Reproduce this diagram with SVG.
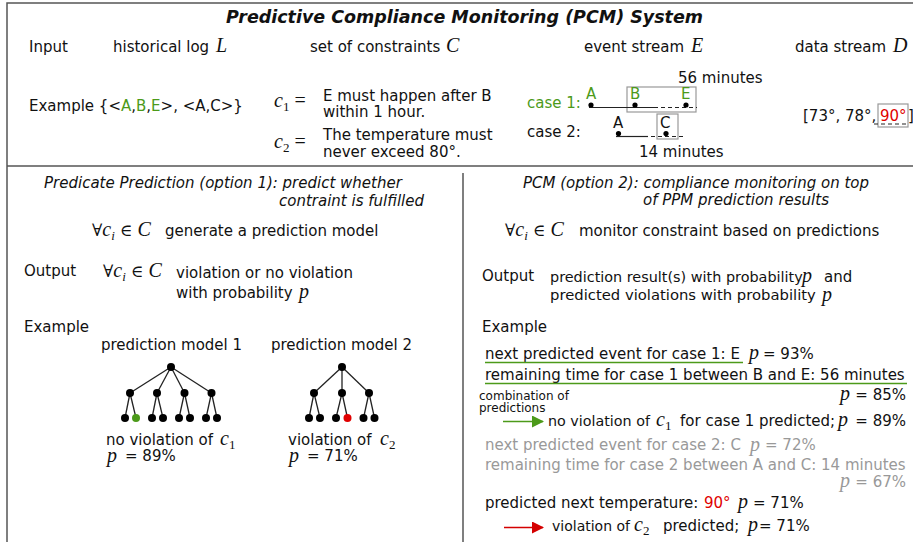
<svg xmlns="http://www.w3.org/2000/svg" width="913" height="542" viewBox="0 0 913 542">
<style>
.t{font-family:"DejaVu Sans","Noto Sans",sans-serif;font-size:15px;fill:#111}
.sm{font-size:12px}
.it{font-style:italic}
.m{font-family:"Liberation Serif","DejaVu Serif",serif;font-style:italic;font-size:20px;fill:#111}
.n{font-style:normal}
.op{font-style:normal;font-size:17px}
.sub{font-size:13px}
.g{fill:#4c9a1a}
.r{fill:#e00000}
.gr{fill:#999}
.frame{stroke:#555;stroke-width:1.5;fill:none}
.box{stroke:#999;stroke-width:1.2;fill:none}
.ln{stroke:#222;stroke-width:1.2;fill:none}
.dash{stroke:#222;stroke-width:1.2;stroke-dasharray:4 3;fill:none}
.edge{stroke:#222;stroke-width:1.3}
.dot{fill:#000}
</style>
<defs>
<marker id="ahg" markerWidth="12" markerHeight="12" refX="11" refY="6" orient="auto" markerUnits="userSpaceOnUse"><path d="M0,0 L12,6 L0,12 Z" fill="#4c9a1a"/></marker>
<marker id="ahr" markerWidth="12" markerHeight="12" refX="11" refY="6" orient="auto" markerUnits="userSpaceOnUse"><path d="M0,0 L12,6 L0,12 Z" fill="#d40000"/></marker>
</defs>

<g id="frame">
<path class="frame" d="M7,542 V3 H913"/>
<line class="frame" x1="7" y1="166" x2="913" y2="166"/>
<line class="frame" x1="463" y1="173" x2="463" y2="542"/>
</g>

<g id="title">
<text class="t" x="226" y="23" style="font-size:17px;font-weight:bold;font-style:italic" textLength="477" lengthAdjust="spacingAndGlyphs">Predictive Compliance Monitoring (PCM) System</text>
</g>

<g id="input-row">
<text class="t" x="29" y="51.5">Input</text>
<text class="t" x="113" y="51.5">historical log</text>
<text class="m" x="216" y="51.5">L</text>
<text class="t" x="310" y="51.5">set of constraints</text>
<text class="m" x="446" y="51.5">C</text>
<text class="t" x="584" y="51.5">event stream</text>
<text class="m" x="691" y="51.5">E</text>
<text class="t" x="795" y="51.5">data stream</text>
<text class="m" x="893" y="51.5">D</text>
</g>

<g id="example-log">
<text class="t" x="29" y="111">Example {&lt;<tspan class="g">A</tspan>,<tspan class="g">B</tspan>,<tspan class="g">E</tspan>&gt;, &lt;A,C&gt;}</text>
</g>

<g id="constraints">
<text class="m" x="274" y="107">c<tspan class="sub n" dy="4">1</tspan><tspan class="n" dy="-4" dx="5">=</tspan></text>
<text class="t" x="323" y="101">E must happen after B</text>
<text class="t" x="323" y="117">within 1 hour.</text>
<text class="m" x="274" y="148">c<tspan class="sub n" dy="4">2</tspan><tspan class="n" dy="-4" dx="5">=</tspan></text>
<text class="t" x="323" y="140">The temperature must</text>
<text class="t" x="323" y="156.5">never exceed 80°.</text>
</g>

<g id="event-stream">
<text class="t" x="678" y="82.5">56 minutes</text>
<text class="t g" x="527" y="108">case 1:</text>
<rect class="box" x="627" y="87" width="69" height="25"/>
<line class="ln" x1="589" y1="107.5" x2="658" y2="107.5"/>
<line class="dash" x1="661" y1="107.5" x2="697" y2="107.5"/>
<text class="t g" x="586" y="99">A</text>
<text class="t g" x="630" y="99">B</text>
<text class="t g" x="681" y="99">E</text>
<circle class="dot" cx="591" cy="105" r="2.6"/>
<circle class="dot" cx="635" cy="105" r="2.6"/>
<circle class="dot" cx="686" cy="105" r="2.6"/>
<text class="t" x="527" y="137">case 2:</text>
<rect class="box" x="657" y="114" width="21" height="25"/>
<line class="ln" x1="616" y1="136.5" x2="648" y2="136.5"/>
<line class="dash" x1="651" y1="136.5" x2="686" y2="136.5"/>
<text class="t" x="613" y="128">A</text>
<text class="t" x="660" y="128">C</text>
<circle class="dot" cx="618.5" cy="133.5" r="2.6"/>
<circle class="dot" cx="666" cy="133.5" r="2.6"/>
<text class="t" x="639" y="157">14 minutes</text>
</g>

<g id="data-stream">
<text class="t" x="803" y="120.5">[73°, 78°, <tspan class="r" x="880">90°</tspan><tspan x="908">]</tspan></text>
<rect class="box" x="878" y="104" width="30" height="23"/>
<line class="dash" x1="874" y1="124" x2="907" y2="124" stroke-width="1"/>
</g>

<g id="option1-header">
<text class="t it" x="44" y="188">Predicate Prediction (option 1): predict whether</text>
<text class="t it" x="424" y="206" text-anchor="end">contraint is fulfilled</text>
<text class="m" x="92" y="236"><tspan class="op">∀</tspan>c<tspan class="sub" dy="4">i</tspan><tspan class="op" dy="-4" dx="5">∈</tspan><tspan dx="5">C</tspan></text>
<text class="t" x="165" y="236">generate a prediction model</text>
</g>

<g id="option1-output">
<text class="t" x="24" y="276">Output</text>
<text class="m" x="103" y="277"><tspan class="op">∀</tspan>c<tspan class="sub" dy="4">i</tspan><tspan class="op" dy="-4" dx="5">∈</tspan><tspan dx="5">C</tspan></text>
<text class="t" x="176" y="278">violation or no violation</text>
<text class="t" x="176" y="298">with probability</text>
<text class="m" x="299" y="298">p</text>
<text class="t" x="24" y="332">Example</text>
</g>

<g id="model1">
<text class="t" x="101" y="350">prediction model 1</text>
<g class="edge">
<line x1="171" y1="367" x2="130" y2="393"/><line x1="171" y1="367" x2="157" y2="393"/><line x1="171" y1="367" x2="184.5" y2="393"/><line x1="171" y1="367" x2="211.5" y2="393"/>
<line x1="130" y1="393" x2="125" y2="418"/><line x1="130" y1="393" x2="136" y2="418"/>
<line x1="157" y1="393" x2="152" y2="418"/><line x1="157" y1="393" x2="163" y2="418"/>
<line x1="184.5" y1="393" x2="179" y2="418"/><line x1="184.5" y1="393" x2="190" y2="418"/>
<line x1="211.5" y1="393" x2="206" y2="418"/><line x1="211.5" y1="393" x2="217" y2="418"/>
</g>
<g class="dot">
<circle cx="171" cy="367" r="4"/>
<circle cx="130" cy="393" r="4"/><circle cx="157" cy="393" r="4"/><circle cx="184.5" cy="393" r="4"/><circle cx="211.5" cy="393" r="4"/>
<circle cx="125" cy="418" r="4"/><circle cx="136" cy="418" r="4" fill="#4c9a1a"/><circle cx="152" cy="418" r="4"/><circle cx="163" cy="418" r="4"/>
<circle cx="179" cy="418" r="4"/><circle cx="190" cy="418" r="4"/><circle cx="206" cy="418" r="4"/><circle cx="217" cy="418" r="4"/>
</g>
<text class="t" x="106" y="445">no violation of</text>
<text class="m" x="220" y="445">c<tspan class="sub n" dy="4">1</tspan></text>
<text class="m" x="107" y="462">p</text>
<text class="t" x="125" y="461">= 89%</text>
</g>

<g id="model2">
<text class="t" x="271" y="350">prediction model 2</text>
<g class="edge">
<line x1="342" y1="367" x2="314" y2="393"/><line x1="342" y1="367" x2="342" y2="393"/><line x1="342" y1="367" x2="369" y2="393"/>
<line x1="314" y1="393" x2="309" y2="418"/><line x1="314" y1="393" x2="320" y2="418"/>
<line x1="342" y1="393" x2="336" y2="418"/><line x1="342" y1="393" x2="347.5" y2="418"/>
<line x1="369" y1="393" x2="363.5" y2="418"/><line x1="369" y1="393" x2="374.5" y2="418"/>
</g>
<g class="dot">
<circle cx="342" cy="367" r="4"/>
<circle cx="314" cy="393" r="4"/><circle cx="342" cy="393" r="4"/><circle cx="369" cy="393" r="4"/>
<circle cx="309" cy="418" r="4"/><circle cx="320" cy="418" r="4"/><circle cx="336" cy="418" r="4"/><circle cx="347.5" cy="418" r="4" fill="#e00000"/>
<circle cx="363.5" cy="418" r="4"/><circle cx="374.5" cy="418" r="4"/>
</g>
<text class="t" x="288" y="445">violation of</text>
<text class="m" x="380" y="445">c<tspan class="sub n" dy="4">2</tspan></text>
<text class="m" x="289" y="462">p</text>
<text class="t" x="307" y="461">= 71%</text>
</g>

<g id="option2-header">
<text class="t it" x="523" y="188">PCM (option 2): compliance monitoring on top</text>
<text class="t it" x="643" y="205">of PPM prediction results</text>
<text class="m" x="505" y="236"><tspan class="op">∀</tspan>c<tspan class="sub" dy="4">i</tspan><tspan class="op" dy="-4" dx="5">∈</tspan><tspan dx="5">C</tspan></text>
<text class="t" x="579" y="236">monitor constraint based on predictions</text>
</g>

<g id="option2-output">
<text class="t" x="482" y="281">Output</text>
<text class="t" x="550" y="282" style="font-size:14.4px">prediction result(s) with probability</text>
<text class="m" x="802" y="282">p</text>
<text class="t" x="824" y="282">and</text>
<text class="t" x="550" y="300" style="font-size:14.8px">predicted violations with probability</text>
<text class="m" x="822" y="301">p</text>
<text class="t" x="482" y="332">Example</text>
</g>

<g id="case1-predictions">
<text class="t" x="485" y="358.5">next predicted event for case 1: E</text>
<text class="m" x="749" y="359">p</text>
<text class="t" x="763" y="358.5">= 93%</text>
<line x1="485" y1="362.5" x2="743" y2="362.5" stroke="#4c9a1a" stroke-width="1.5"/>
<text class="t" x="485" y="380">remaining time for case 1 between B and E: 56 minutes</text>
<line x1="485" y1="383.5" x2="907" y2="383.5" stroke="#4c9a1a" stroke-width="1.5"/>
<text class="m" x="840" y="400">p</text>
<text class="t" x="906" y="399.5" text-anchor="end">= 85%</text>
<text class="t sm" x="479" y="399.5">combination of</text>
<text class="t sm" x="479" y="411.5">predictions</text>
</g>

<g id="case1-result">
<text class="t" x="548" y="425.5" style="font-size:14.3px">no violation of</text>
<text class="m" x="656" y="426">c<tspan class="sub n" dy="4">1</tspan></text>
<text class="t" x="680" y="425.5">for case 1 predicted;</text>
<text class="m" x="838" y="426">p</text>
<text class="t" x="906" y="425.5" text-anchor="end">= 89%</text>
</g>

<g id="case2-predictions">
<text class="t gr" x="485" y="450">next predicted event for case 2: C</text>
<text class="m gr" x="750" y="450.5">p</text>
<text class="t gr" x="765" y="450">= 72%</text>
<text class="t gr" x="485" y="470">remaining time for case 2 between A and C: 14 minutes</text>
<text class="m gr" x="840" y="487">p</text>
<text class="t gr" x="906" y="487" text-anchor="end">= 67%</text>
</g>

<g id="temperature">
<text class="t" x="485" y="507.5">predicted next temperature: <tspan class="r" x="704">90°</tspan></text>
<text class="m" x="738" y="508">p</text>
<text class="t" x="753" y="507.5">= 71%</text>
<text class="t" x="552" y="530.5" style="font-size:14px">violation of</text>
<text class="m" x="634" y="531">c<tspan class="sub n" dy="4">2</tspan></text>
<text class="t" x="663" y="530.5">predicted;</text>
<text class="m" x="748" y="531">p</text>
<text class="t" x="759" y="530.5">= 71%</text>
</g>

<g id="connectors">
<line x1="503" y1="421.5" x2="543" y2="421.5" stroke="#4c9a1a" stroke-width="1.6" marker-end="url(#ahg)"/>
<line x1="504" y1="527.5" x2="543" y2="527.5" stroke="#d40000" stroke-width="1.6" marker-end="url(#ahr)"/>
</g>
</svg>
